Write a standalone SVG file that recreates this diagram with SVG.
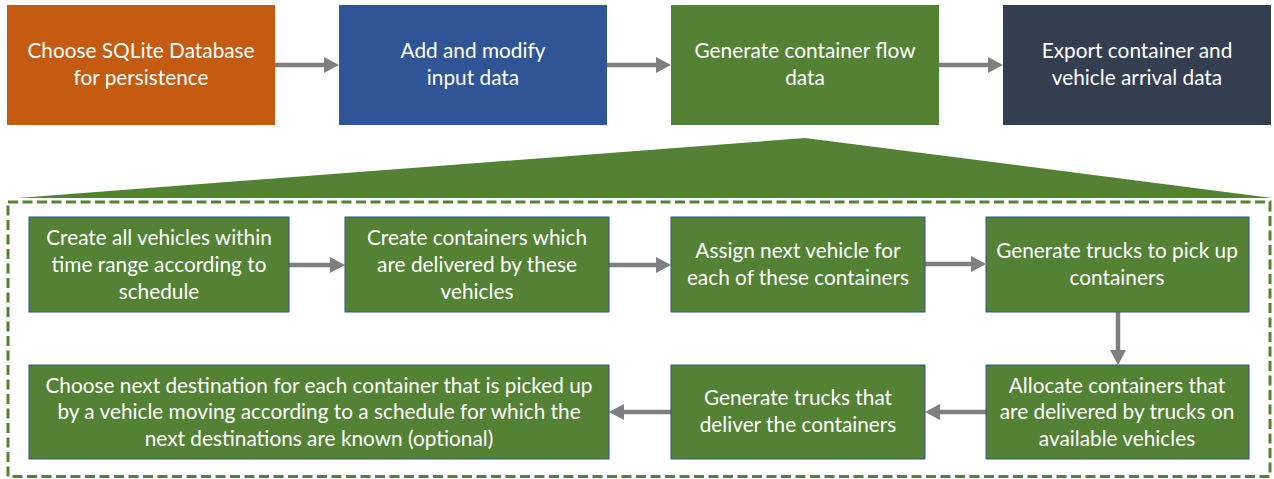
<svg xmlns="http://www.w3.org/2000/svg" width="1274" height="479" viewBox="0 0 1274 479">
<defs>
<style>
.t{font-family:Lato,"Liberation Sans",sans-serif;font-size:20.8px;fill:#fff;text-anchor:middle}
.ib{fill:#548235;stroke:#2F528F;stroke-width:1}
.c{stroke:#7F7F7F;stroke-width:4.5;fill:none;marker-end:url(#ah)}
</style>
<marker id="ah" markerUnits="userSpaceOnUse" markerWidth="16" markerHeight="17" refX="3" refY="8" orient="auto">
<path d="M0,0 L15,8 L0,16 z" fill="#7F7F7F"/>
</marker>
</defs>
<rect width="1274" height="479" fill="#fff"/>
<polygon points="18,198 805,138 1272,198" fill="#548235"/>
<rect x="8" y="202" width="1262" height="274.5" fill="none" stroke="#548235" stroke-width="3" stroke-dasharray="10,4.5"/>
<g id="connectors">
<line class="c" x1="275" y1="65" x2="327" y2="65"/>
<line class="c" x1="607" y1="65" x2="659" y2="65"/>
<line class="c" x1="939" y1="65" x2="991" y2="65"/>
<line class="c" x1="289" y1="265" x2="333" y2="265"/>
<line class="c" x1="609" y1="265" x2="659" y2="265"/>
<line class="c" x1="925" y1="264" x2="974" y2="264"/>
<line class="c" x1="1118" y1="312" x2="1118" y2="353"/>
<line class="c" x1="986" y1="412" x2="937" y2="412"/>
<line class="c" x1="671" y1="412" x2="621" y2="412"/>
</g>
<g id="n1"><rect x="7" y="5" width="268" height="120" fill="#C55A11"/><text class="t" x="141" y="58">Choose SQLite Database</text><text class="t" x="141" y="85">for persistence</text></g>
<g id="n2"><rect x="339" y="5" width="268" height="120" fill="#2F5597"/><text class="t" x="473" y="58">Add and modify</text><text class="t" x="473" y="85">input data</text></g>
<g id="n3"><rect x="671" y="5" width="268" height="120" fill="#548235"/><text class="t" x="805" y="58">Generate container flow</text><text class="t" x="805" y="85">data</text></g>
<g id="n4"><rect x="1003" y="5" width="268" height="120" fill="#333F50"/><text class="t" x="1137" y="58">Export container and</text><text class="t" x="1137" y="85">vehicle arrival data</text></g>
<g id="a"><rect class="ib" x="29" y="217" width="260" height="95"/><text class="t" x="159" y="245">Create all vehicles within</text><text class="t" x="159" y="272">time range according to</text><text class="t" x="159" y="299">schedule</text></g>
<g id="b"><rect class="ib" x="345" y="217" width="264" height="95"/><text class="t" x="477" y="245">Create containers which</text><text class="t" x="477" y="272">are delivered by these</text><text class="t" x="477" y="299">vehicles</text></g>
<g id="c"><rect class="ib" x="671" y="217" width="254" height="95"/><text class="t" x="798" y="258">Assign next vehicle for</text><text class="t" x="798" y="285">each of these containers</text></g>
<g id="d"><rect class="ib" x="986" y="217" width="263" height="95"/><text class="t" x="1117" y="258">Generate trucks to pick up</text><text class="t" x="1117" y="285">containers</text></g>
<g id="g"><rect class="ib" x="986" y="365" width="263" height="94"/><text class="t" x="1117" y="393">Allocate containers that</text><text class="t" x="1117" y="419">are delivered by trucks on</text><text class="t" x="1117" y="446">available vehicles</text></g>
<g id="f"><rect class="ib" x="671" y="365" width="254" height="94"/><text class="t" x="798" y="405">Generate trucks that</text><text class="t" x="798" y="432">deliver the containers</text></g>
<g id="e"><rect class="ib" x="29" y="365" width="580" height="94"/><text class="t" x="319" y="393">Choose next destination for each container that is picked up</text><text class="t" x="319" y="419">by a vehicle moving according to a schedule for which the</text><text class="t" x="319" y="446">next destinations are known (optional)</text></g>
</svg>
